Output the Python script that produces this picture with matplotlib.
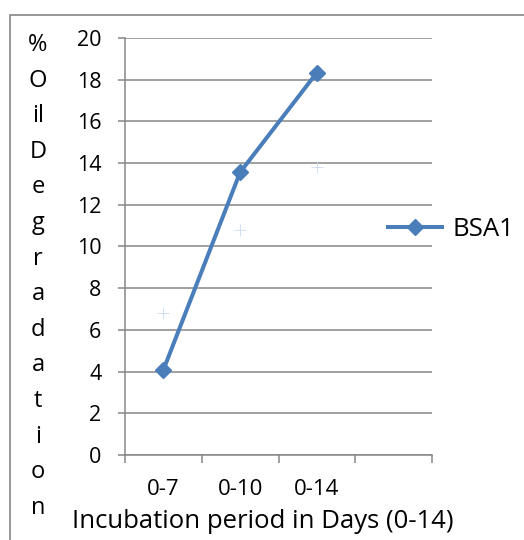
import matplotlib
matplotlib.use("Agg")
import matplotlib.pyplot as plt
from matplotlib.patches import Rectangle
from matplotlib.lines import Line2D

# dados
periodos = ["0-7", "0-10", "0-14", ""]
bsa1 = [4.08, 13.56, 18.34]
serie_clara = [6.8, 10.8, 13.8]
y_ticks = [0, 2, 4, 6, 8, 10, 12, 14, 16, 18, 20]
ylabel = "%Oil Degradation"
xlabel = "Incubation period in Days (0-14)"

AZUL = "#4A7EBB"
CINZA = "#868686"
FS = 15.5        # rótulos dos ticks
FS_T = 18.5      # títulos / legenda
plt.rcParams["font.family"] = ["Open Sans", "DejaVu Sans"]

fig = plt.figure(figsize=(5.24, 5.40), dpi=100)
fig.patch.set_facecolor("white")

# moldura da área do gráfico (só esquerda e topo visíveis)
fig.patches.append(Rectangle((10 / 524, -0.05), 1.2, 1 - 15 / 540 + 0.05,
                             transform=fig.transFigure, fill=False,
                             edgecolor=CINZA, lw=1.2, zorder=0))

ax = fig.add_axes([125 / 524, 1 - 455 / 540, 307 / 524, 417 / 540])
xs = list(range(len(bsa1)))
ax.plot(xs, serie_clara, ls="none", marker="+", ms=8, mew=0.6,
        color="#C9DAF0", zorder=3)
ax.plot(xs, bsa1, color=AZUL, lw=2.9, marker="D", ms=8.5, zorder=4)

ax.set_xlim(-0.5, len(periodos) - 0.5)
ax.set_ylim(0, 20)
ax.set_yticks(y_ticks)
ax.yaxis.grid(True, color=CINZA, lw=1.1)
ax.set_axisbelow(True)
for s in ("top", "right"):
    ax.spines[s].set_visible(False)
for s in ("left", "bottom"):
    ax.spines[s].set_color(CINZA)
    ax.spines[s].set_linewidth(1.1)

ax.set_xticks([i - 0.5 for i in range(len(periodos) + 1)])
ax.set_xticklabels([])
ax.set_xticks(range(len(periodos)), minor=True)
ax.set_xticklabels(periodos, minor=True)
ax.tick_params(axis="x", which="major", direction="out", length=6, color=CINZA, width=1.1)
ax.tick_params(axis="x", which="minor", length=0, pad=17, labelsize=FS + 0.5)
ax.tick_params(axis="y", direction="out", length=5, color=CINZA, width=1.1,
               pad=12, labelsize=FS)

# título do eixo y empilhado, uma "letra" por linha
partes = ["%", "O", "il", "D", "e", "g", "r", "a", "d", "a", "t", "i", "o", "n"]
for i, p in enumerate(partes):
    fig.text(38 / 524, 1 - (45 + i * 35.6) / 540, p, ha="center", va="center",
             fontsize=17)

fig.text(263 / 524, 1 - 522 / 540, xlabel, ha="center", va="center", fontsize=FS_T)

handles = [Line2D([0], [0], color=AZUL, lw=2.9, marker="D", ms=8.5, label="BSA1")]
fig.legend(handles=handles, loc="center left", bbox_to_anchor=(388 / 524, 1 - 229 / 540),
           frameon=False, fontsize=FS_T, handlelength=2.1, handletextpad=0.4,
           borderpad=0, borderaxespad=0)

fig.savefig("out.png", dpi=100, facecolor="white")
